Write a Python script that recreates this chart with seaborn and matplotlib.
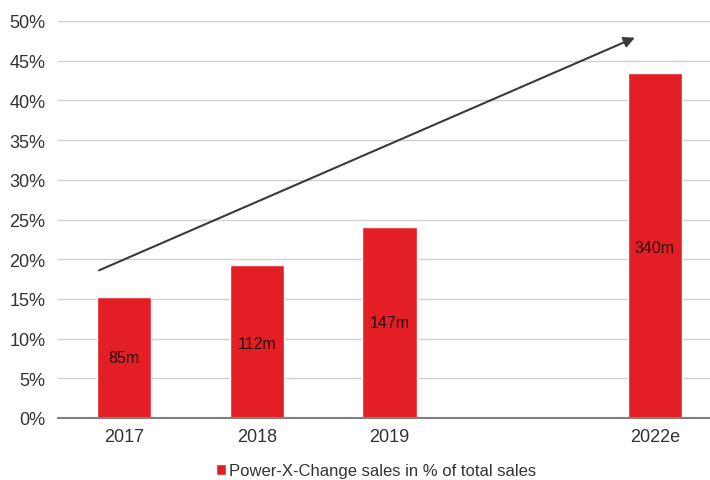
import matplotlib
matplotlib.use("Agg")
import matplotlib.pyplot as plt
import seaborn as sns
import pandas as pd
from matplotlib.ticker import FuncFormatter

categories = ["2017", "2018", "2019", "2022e"]
order = ["2017", "2018", "2019", " ", "2022e"]
values = [15.2, 19.3, 24.1, 43.5]
bar_labels = ["85m", "112m", "147m", "340m"]
label_heights = [7.6, 9.4, 12.0, 21.5]
arrow_start = (-0.19, 18.6)
arrow_end = (3.85, 47.9)
series_name = "Power-X-Change sales in % of total sales"

sns.set_theme(style="white")
plt.rcParams['font.family'] = ['Liberation Sans', 'DejaVu Sans']

df = pd.DataFrame({"year": categories, "share": values, "series": series_name})

fig = plt.figure(figsize=(7.1, 4.81), dpi=100)
ax = fig.add_axes([58/710, 62/481, (721-58)/710, 397/481])

sns.barplot(data=df, x="year", y="share", hue="series", order=order,
            palette=["#e31e24"], width=0.41, ax=ax, saturation=1)

pos = {c: i for i, c in enumerate(order)}
for c, lab, h in zip(categories, bar_labels, label_heights):
    ax.text(pos[c], h, lab, ha="center", va="center", fontsize=11.5, color="#2a0a0a")

ax.annotate("", xy=arrow_end, xytext=arrow_start,
            arrowprops=dict(arrowstyle="-|>", color="#3a3a3a", lw=1.5,
                            mutation_scale=16, shrinkA=0, shrinkB=0))

ax.set_ylim(0, 50)
ax.set_xlim(-0.5, 4.5)
ax.set_yticks(range(0, 51, 5))
ax.yaxis.set_major_formatter(FuncFormatter(lambda v, p: f"{int(v)}%"))
ax.grid(axis="y", color="#d0d0d0", lw=1)
ax.set_axisbelow(True)
for s in ["top", "right", "left"]:
    ax.spines[s].set_visible(False)
ax.spines["bottom"].set_color("#808080")
ax.spines["bottom"].set_linewidth(1.5)
ax.set_xlabel("")
ax.set_ylabel("")
ax.tick_params(axis="both", labelsize=13, colors="#333333", length=0)
ax.tick_params(axis="x", pad=7)
ax.tick_params(axis="y", pad=9)

leg = ax.legend(loc="center", bbox_to_anchor=((376-58)/663, -(472-419)/397), frameon=False,
                fontsize=12, handlelength=0.6, handleheight=0.6, handletextpad=0.2,
                borderpad=0)
for t in leg.get_texts():
    t.set_color("#333333")

fig.savefig("out.png", dpi=100)
